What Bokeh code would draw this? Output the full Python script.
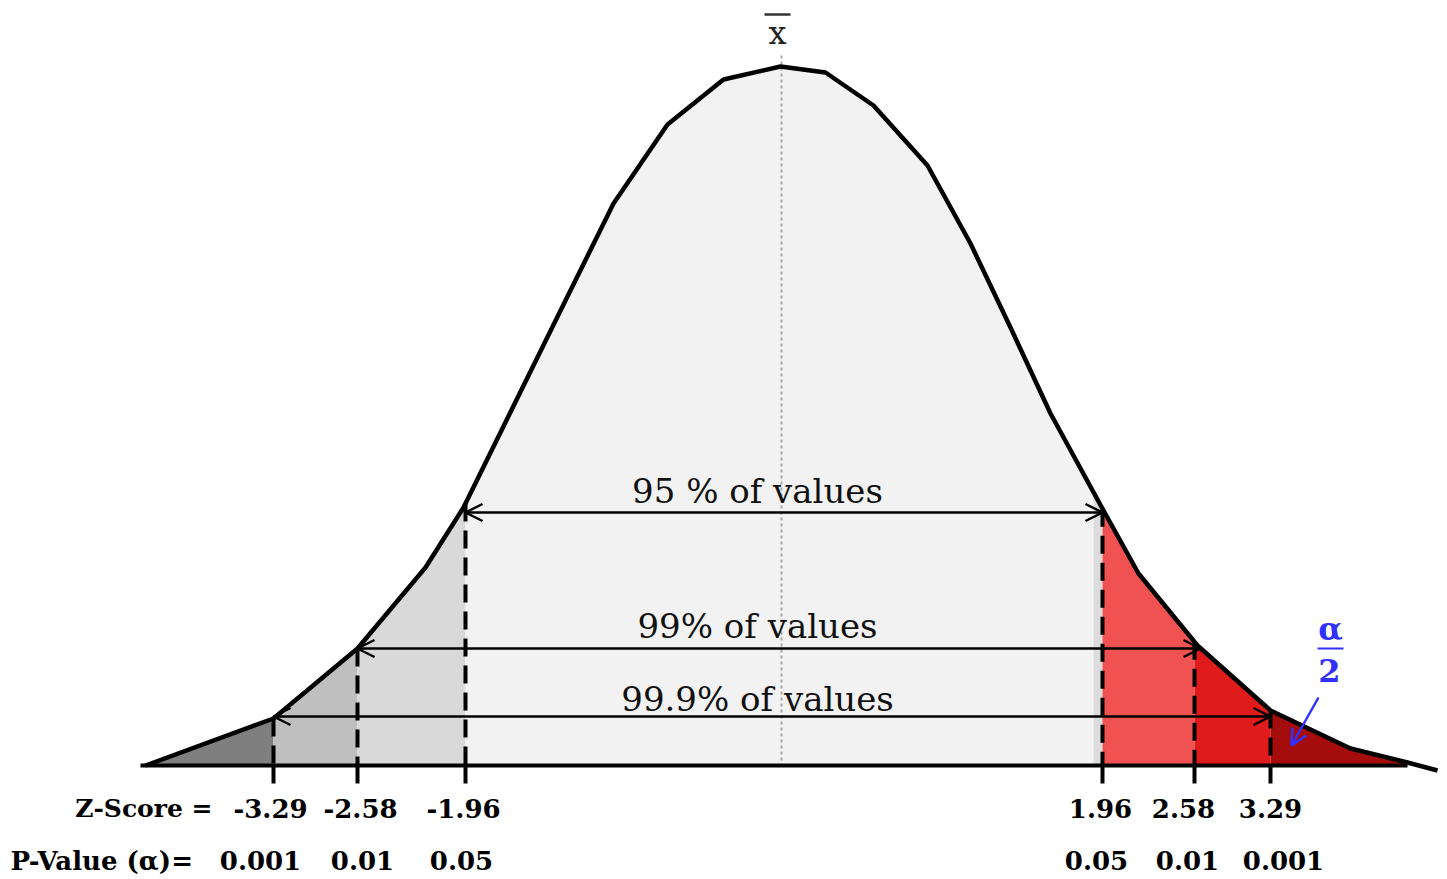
import numpy as np
from bokeh.plotting import figure
from bokeh.models import Range1d, Arrow, OpenHead, ColumnDataSource
from bokeh.core.properties import value
from bokeh.embed import file_html
from bokeh.resources import INLINE

# ---- data (drawing units; height above baseline) ----
curve_x = [145, 273, 357, 425, 463, 565, 613, 667, 723, 780, 825, 873, 927,
           970, 1010, 1050, 1103, 1138, 1197, 1270, 1350, 1407, 1437]
curve_h = [0, 47, 117, 198, 258, 465, 562, 641, 686, 699, 693, 660, 600,
           522, 438, 352, 255, 192, 120, 55, 17, 3, -5]

z_scores = ["-3.29", "-2.58", "-1.96", "1.96", "2.58", "3.29"]
p_values = ["0.001", "0.01", "0.05", "0.05", "0.01", "0.001"]
cut_x = [273, 357, 465, 1102, 1194, 1270]
z_label_x = [270, 360, 463, 1100, 1183, 1270]
p_label_x = [260, 362, 461, 1096, 1187, 1283]

region_edges = [145, 273, 357, 465, 1093, 1102, 1194, 1270, 1407]
region_colors = ["#7f7f7f", "#bfbfbf", "#d9d9d9", "#f2f2f2", "#dcdcdc",
                 "#f05252", "#e01b1b", "#a50d0d"]

coverage_labels = ["95 % of values", "99% of values", "99.9% of values"]
coverage_left = [465, 357, 273]
coverage_right = [1102, 1200, 1270]
coverage_h = [253, 117, 49]
coverage_text_h = [275, 140, 67]

FONT = value("DejaVu Serif")

p = figure(width=1447, height=879, output_backend="svg", toolbar_location=None,
           x_range=Range1d(0, 1447), y_range=Range1d(-114, 765),
           min_border=0)
p.axis.visible = False
p.grid.visible = False
p.outline_line_color = None
p.background_fill_color = "white"

cx = np.array(curve_x, float)
ch = np.array(curve_h, float)

# filled regions under the curve
xs, ys = [], []
for a, b in zip(region_edges[:-1], region_edges[1:]):
    inner = [x for x in curve_x if a < x < b]
    px = [a] + inner + [b]
    py = list(np.interp(px, cx, ch))
    xs.append(px + [b, a])
    ys.append(py + [0, 0])
p.patches(xs, ys, fill_color=region_colors, line_color=None)

# centre dotted line
p.line([781, 781], [710, 0], line_color="#a6a6a6", line_width=2, line_dash="3 3")

# cut dashed lines (dashed above baseline, solid stub below)
cut_top = np.interp(cut_x, cx, ch)
p.segment(x0=cut_x, y0=cut_top, x1=cut_x, y1=[0] * len(cut_x),
          line_color="black", line_width=4, line_dash="18 9")
p.segment(x0=cut_x, y0=[0] * len(cut_x), x1=cut_x, y1=[-18] * len(cut_x),
          line_color="black", line_width=4)

# baseline and curve
p.line([140, 1407], [0, 0], line_color="black", line_width=4)
p.line(curve_x, curve_h, line_color="black", line_width=4.5, line_join="round")

# coverage arrows
src = ColumnDataSource(dict(x0=coverage_left, x1=coverage_right, y=coverage_h))
p.add_layout(Arrow(x_start="x0", y_start="y", x_end="x1", y_end="y", source=src,
                   line_width=2.5, line_color="black",
                   start=OpenHead(size=17, line_width=2.5, line_color="black"),
                   end=OpenHead(size=17, line_width=2.5, line_color="black")))
p.text(x=[757] * 3, y=coverage_text_h, text=coverage_labels,
       text_align="center", text_baseline="middle", text_font=FONT,
       text_font_size=value("34px"), text_color="#111111")

# x-bar
p.text(x=[777], y=[733], text=["x"], text_align="center", text_baseline="middle",
       text_font=FONT, text_font_size=value("32px"), text_color="#222222")
p.line([764, 790], [751, 751], line_color="#333333", line_width=2.5)

# bottom labels
p.text(x=[212], y=[-43], text=["Z-Score ="], text_align="right",
       text_baseline="middle", text_font=FONT, text_font_size=value("25px"),
       text_font_style="bold", text_color="#000000")
p.text(x=z_label_x, y=[-43] * 6, text=z_scores, text_align="center",
       text_baseline="middle", text_font=FONT, text_font_size=value("26px"),
       text_font_style="bold", text_color="#000000")
p.text(x=[10], y=[-95], text=["P-Value (α)="], text_align="left",
       text_baseline="middle", text_font=FONT, text_font_size=value("26px"),
       text_font_style="bold", text_color="#000000")
p.text(x=p_label_x, y=[-95] * 6, text=p_values, text_align="center",
       text_baseline="middle", text_font=FONT, text_font_size=value("26px"),
       text_font_style="bold", text_color="#000000")

# alpha / 2 annotation
BLUE = "#3030ff"
p.text(x=[1330, 1329], y=[137, 95], text=["α", "2"], text_align="center",
       text_baseline="middle", text_font=FONT, text_font_size=value("32px"),
       text_font_style="bold", text_color=BLUE)
p.line([1317, 1343], [117, 117], line_color=BLUE, line_width=2)
p.add_layout(Arrow(x_start=1318, y_start=68, x_end=1291, y_end=20,
                   line_color=BLUE, line_width=2.5,
                   end=OpenHead(size=16, line_width=2.5, line_color=BLUE)))

open("out.html", "w").write(file_html(p, INLINE))
